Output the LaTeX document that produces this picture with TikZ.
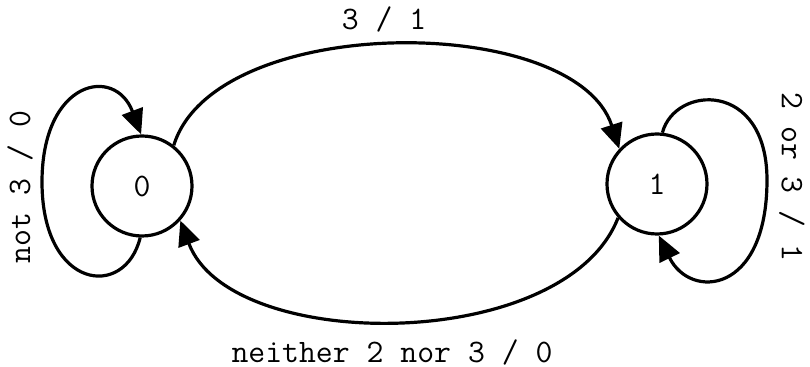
\documentclass[tikz,border=0pt]{standalone}
\usetikzlibrary{arrows.meta}
\begin{document}
\begin{tikzpicture}[x=0.5pt,y=-0.5pt,
  state/.style={circle,draw,line width=1.6pt,minimum size=50pt,inner sep=0pt,font=\ttfamily\fontsize{16.4}{18}\selectfont},
  conn/.style={line width=1.6pt,-{Triangle[length=12.5pt,width=11pt]}},
  lbl/.style={font=\ttfamily\fontsize{16.4}{18}\selectfont,inner sep=0pt}]
\useasboundingbox (0,0) rectangle (810,367);
\node[state] (n0) at (142,186) {0};
\node[state] (n1) at (657,184) {1};
% top arc 0 -> 1
\draw[conn] (n0.52) .. controls (215,12) and (575,12) .. (n1.137);
% bottom arc 1 -> 0
\draw[conn] (n1.221) .. controls (565,354) and (230,354) .. (n0.318);
% left self loop
\draw[conn] (n0.268) .. controls (125,300) and (42,290) .. (42,182) .. controls (42,80) and (115,65) .. (n0.91);
% right self loop
\draw[conn] (n1.84) .. controls (675,85) and (767,80) .. (767,180) .. controls (767,295) and (690,300) .. (n1.272);
\node[lbl] (t01) at (384,19) {3 / 1};
\node[lbl] (t10) at (392,352) {neither 2 nor 3 / 0};
\node[lbl,rotate=90] (t00) at (20,187) {not 3 / 0};
\node[lbl,rotate=-90] (t11) at (792,177) {2 or 3 / 1};
\end{tikzpicture}
\end{document}
